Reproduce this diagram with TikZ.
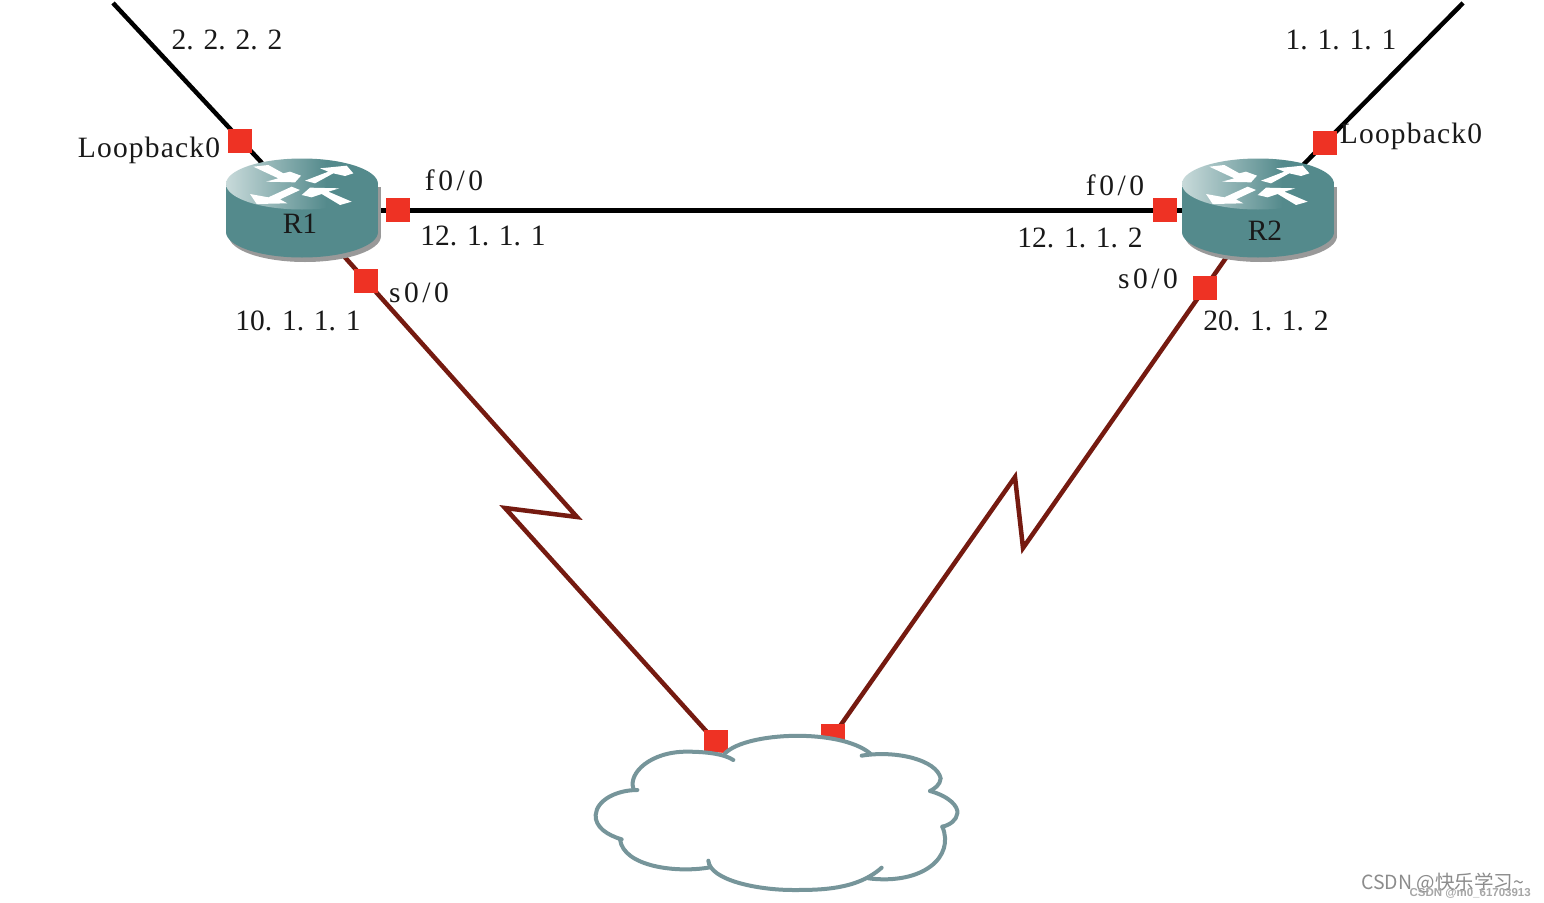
\documentclass[tikz,border=0pt]{standalone}
\usepackage{fontspec}
\setmainfont{Liberation Serif}
\newfontfamily\widea[LetterSpace=4]{Liberation Serif}
\newfontfamily\wideb[LetterSpace=12]{Liberation Serif}
\newfontfamily\wmfont{Noto Sans CJK SC}
\newfontfamily\wmlatin{Liberation Sans}
\definecolor{serialred}{HTML}{751A10}
\definecolor{portred}{HTML}{EE3224}
\definecolor{teal1}{HTML}{548A8C}
\definecolor{teal0}{HTML}{C8DADA}
\definecolor{cloudline}{HTML}{76959A}
\pgfdeclarehorizontalshading{rtop}{100bp}{color(0bp)=(teal0); color(25bp)=(teal0); color(58bp)=(teal1); color(100bp)=(teal1)}
\tikzset{
 x=1pt,y=-1pt,
 ethline/.style={draw=black,line width=4.5pt},
 serline/.style={draw=serialred,line width=4.5pt,line join=miter},
 port/.style={fill=portred,minimum size=24pt,inner sep=0pt,outer sep=0pt},
 lab/.style={font=\fontsize{29.5}{30}\selectfont,inner sep=0pt,text=black!90},
 laba/.style={font=\widea\fontsize{29.5}{30}\selectfont,inner sep=0pt,text=black!90},
 labb/.style={font=\wideb\fontsize{29.5}{30}\selectfont,inner sep=0pt,text=black!90},
 rarrow/.style={fill=white,draw=none},
 cloudstroke/.style={draw=cloudline,line width=4pt,line cap=round},
}
\newcommand{\myrouter}[1]{%
 \begin{scope}[shift={(#1,0)}]
  \fill[black!40] (229,187) rectangle (381,236);
  \fill[black!40] (305,236) ellipse[x radius=76,y radius=26];
  \fill[teal1] (226,184) rectangle (378,232);
  \fill[teal1] (302,232) ellipse[x radius=76,y radius=25.5];
  \shade[shading=rtop] (302,184) ellipse[x radius=76,y radius=25.5];
  \begin{scope}[shift={(200,120)},scale=1/3]
   \fill[rarrow] (160,140) -- (205,135) -- (250,160) -- (270,155) -- (303,167) -- (285,187) -- (198,185) -- (235,175) -- cycle;
   \fill[rarrow] (315,182) -- (345,190) -- (400,160) -- (435,168) -- (460,160) -- (440,137) -- (360,145) -- (385,155) -- cycle;
   \fill[rarrow] (275,200) -- (300,210) -- (240,238) -- (262,250) -- (170,252) -- (150,222) -- (205,232) -- cycle;
   \fill[rarrow] (455,245) -- (420,255) -- (365,222) -- (335,232) -- (305,225) -- (330,203) -- (418,205) -- (385,215) -- cycle;
  \end{scope}
 \end{scope}}
\begin{document}
\begin{tikzpicture}
\useasboundingbox (0,0) rectangle (1544,902);
\fill[white] (0,0) rectangle (1544,902);
% anchors
\coordinate (freeA) at (113,3);
\coordinate (freeB) at (1463,3);
\coordinate (r1tl) at (262,163);
\coordinate (r2tr) at (1303,165);
\coordinate (r1e) at (376,210.5);
\coordinate (r2w) at (1184,210.5);
\coordinate (r1s) at (342,254);
\coordinate (r2s) at (1228,255);
\coordinate (b1a) at (577,517);
\coordinate (b1b) at (505,508);
\coordinate (c1) at (716,742);
\coordinate (b2a) at (1023,548);
\coordinate (b2b) at (1015,477);
\coordinate (c2) at (833,736);
% connectors
\draw[ethline] (freeA) -- (r1tl);
\draw[ethline] (freeB) -- (r2tr);
\draw[ethline] (r1e) -- (r2w);
\draw[serline] (r1s) -- (b1a) -- (b1b) -- (c1);
\draw[serline] (r2s) -- (b2a) -- (b2b) -- (c2);
% routers
\myrouter{0}
\myrouter{956}
\node[lab] (r1name) at (300,224) {R1};
\node[lab] (r2name) at (1265,231) {R2};
% ports
\node[port] (p1) at (240,141) {};
\node[port] (p2) at (1325,143) {};
\node[port] (p3) at (398,210) {};
\node[port] (p4) at (1165,210) {};
\node[port] (p5) at (366,281) {};
\node[port] (p6) at (1205,288) {};
\node[port] (p7) at (716,742) {};
\node[port] (p8) at (833,736) {};
% cloud
\begin{scope}[shift={(580,710)},scale=1/3]
 \fill[white] (435,130) .. controls (500,65) and (780,55) .. (870,130)
   .. controls (960,120) and (1070,150) .. (1082,205)
   .. controls (1080,225) and (1065,235) .. (1050,243)
   .. controls (1110,260) and (1135,290) .. (1132,310)
   .. controls (1130,330) and (1110,345) .. (1087,350)
   .. controls (1105,440) and (1030,520) .. (865,505)
   .. controls (780,540) and (720,540) .. (640,540)
   .. controls (530,540) and (420,510) .. (385,470)
   .. controls (290,490) and (130,470) .. (120,388)
   .. controls (80,375) and (45,350) .. (47,315)
   .. controls (50,270) and (110,240) .. (160,238)
   .. controls (145,190) and (210,125) .. (320,125)
   .. controls (370,125) and (410,125) .. (435,130) -- cycle;
 \draw[cloudstroke] (435,130) .. controls (500,65) and (780,55) .. (870,130);
 \draw[cloudstroke] (845,137) .. controls (950,120) and (1070,150) .. (1082,205) .. controls (1080,225) and (1065,235) .. (1050,243);
 \draw[cloudstroke] (1050,243) .. controls (1110,260) and (1135,290) .. (1132,310) .. controls (1130,330) and (1110,345) .. (1087,350);
 \draw[cloudstroke] (1087,350) .. controls (1125,440) and (1030,525) .. (865,505);
 \draw[cloudstroke] (905,473) .. controls (830,540) and (720,540) .. (640,540) .. controls (530,540) and (390,510) .. (385,452);
 \draw[cloudstroke] (390,472) .. controls (290,490) and (130,470) .. (120,388);
 \draw[cloudstroke] (125,388) .. controls (80,375) and (45,350) .. (47,315) .. controls (50,270) and (110,240) .. (172,240);
 \draw[cloudstroke] (160,235) .. controls (145,190) and (210,125) .. (320,125) .. controls (370,125) and (430,130) .. (460,150);
\end{scope}
% labels
\node[lab] (t1) at (227,40) {2. 2. 2. 2};
\node[lab] (t2) at (1341,40) {1. 1. 1. 1};
\node[laba] (t3) at (149,150) {Loopback0};
\node[laba] (t4) at (1411,136) {Loopback0};
\node[labb] (t5) at (454,180) {f0/0};
\node[labb] (t6) at (1115,185) {f0/0};
\node[lab] (t7) at (483,236) {12. 1. 1. 1};
\node[lab] (t8) at (1080,238) {12. 1. 1. 2};
\node[labb] (t9) at (419,293) {s0/0};
\node[labb] (t10) at (1148,279) {s0/0};
\node[lab] (t11) at (298,321) {10. 1. 1. 1};
\node[lab] (t12) at (1266,321) {20. 1. 1. 2};
% watermark
\node[inner sep=0pt,anchor=west,text=black!45,font=\wmfont\fontsize{19.5}{20}\selectfont] (wm1) at (1361,883) {CSDN @快乐学习\textasciitilde};
\node[inner sep=0pt,anchor=east,text=black!35,font=\wmlatin\bfseries\fontsize{11.5}{12}\selectfont] (wm2) at (1531,893) {CSDN @m0\_61703913};
\end{tikzpicture}
\end{document}
